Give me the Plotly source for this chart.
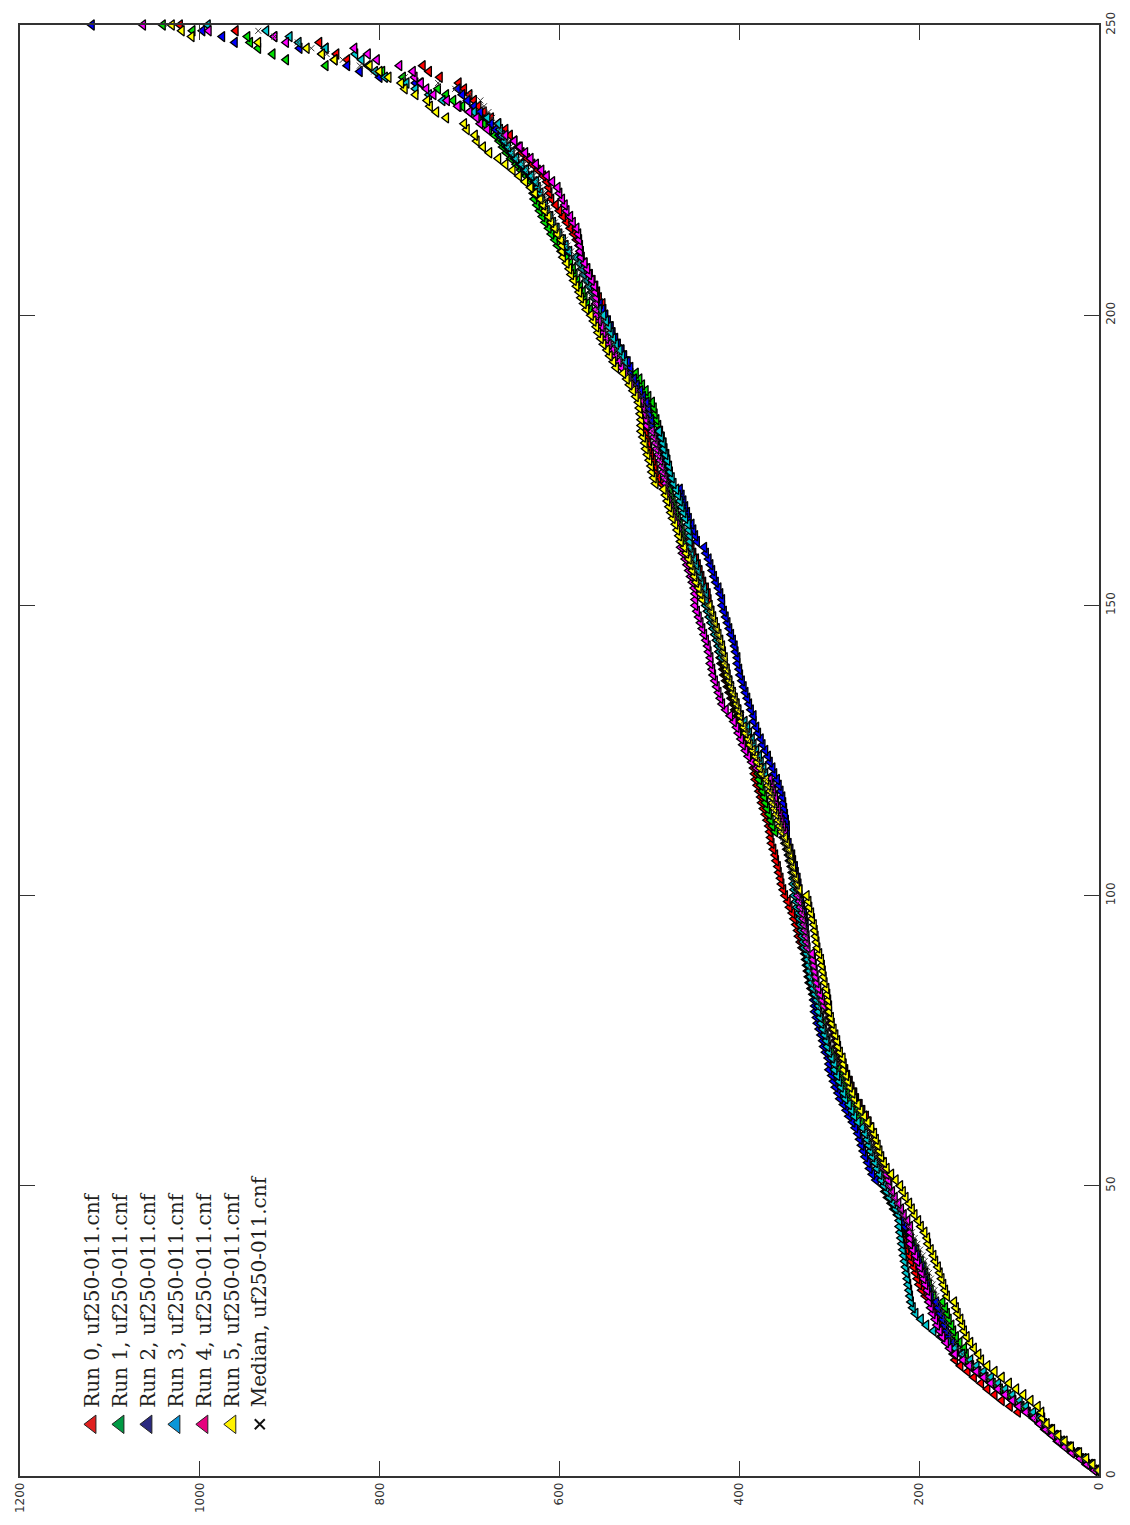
import plotly.graph_objects as go

# rank (number of instances) 1..250
ranks = list(range(1, 251))

run0 = [
5, 14, 20, 30, 37, 46, 52, 60, 66, 73,
90, 99, 108, 116, 124, 131, 139, 146, 154, 160,
162, 165, 168, 172, 175, 178, 180, 183, 185, 188,
193, 197, 200, 202, 204, 206, 209, 211, 214, 216,
217, 218, 218, 219, 222, 226, 229, 232, 236, 238,
239, 239, 240, 242, 244, 246, 248, 250, 252, 254,
256, 259, 263, 266, 270, 272, 275, 277, 280, 282,
288, 294, 299, 301, 302, 304, 306, 308, 309, 311,
314, 316, 318, 320, 322, 323, 324, 325, 326, 327,
330, 332, 334, 335, 337, 339, 341, 344, 346, 349,
351, 353, 354, 356, 357, 359, 360, 362, 364, 365,
366, 367, 369, 371, 373, 375, 376, 378, 380, 382,
383, 384, 385, 386, 388, 390, 392, 395, 397, 400,
402, 405, 407, 409, 411, 413, 415, 417, 418, 420,
421, 422, 422, 423, 424, 425, 427, 429, 431, 433,
434, 435, 437, 440, 442, 444, 446, 448, 451, 453,
458, 463, 466, 469, 472, 474, 476, 478, 480, 482,
487, 490, 493, 494, 496, 498, 500, 501, 503, 504,
505, 506, 507, 508, 509, 511, 514, 518, 521, 524,
525, 526, 528, 531, 535, 538, 541, 543, 546, 549,
551, 552, 556, 558, 560, 563, 566, 569, 572, 575,
576, 578, 581, 584, 588, 592, 596, 600, 604, 609,
611, 612, 614, 618, 624, 630, 636, 642, 646, 650,
655, 660, 668, 676, 684, 690, 695, 700, 706, 712,
733, 745, 752, 836, 848, 860, 867, 917, 960, 1022]

run1 = [
3, 10, 20, 26, 36, 44, 49, 58, 62, 71,
79, 86, 95, 101, 110, 118, 126, 134, 142, 148,
148, 150, 155, 159, 162, 164, 167, 169, 171, 174,
184, 187, 189, 191, 193, 195, 198, 201, 203, 206,
210, 214, 218, 221, 224, 228, 231, 235, 238, 240,
242, 244, 247, 249, 252, 254, 256, 258, 260, 262,
264, 267, 270, 274, 277, 280, 283, 285, 287, 290,
293, 295, 298, 301, 302, 304, 306, 307, 309, 311,
312, 314, 316, 318, 320, 321, 322, 323, 324, 325,
325, 326, 327, 328, 329, 330, 331, 332, 333, 335,
335, 336, 337, 339, 340, 342, 344, 346, 348, 350,
360, 363, 365, 367, 369, 371, 372, 374, 376, 378,
379, 380, 382, 384, 387, 390, 392, 395, 397, 400,
401, 403, 405, 407, 409, 411, 413, 415, 416, 418,
420, 422, 423, 425, 427, 429, 431, 433, 435, 437,
441, 443, 445, 448, 450, 452, 454, 456, 459, 461,
462, 463, 464, 466, 468, 470, 472, 474, 476, 477,
477, 478, 478, 479, 480, 481, 483, 484, 486, 488,
490, 492, 494, 495, 497, 501, 504, 508, 511, 515,
523, 526, 530, 533, 537, 540, 543, 545, 548, 551,
566, 569, 572, 574, 577, 580, 583, 585, 588, 592,
598, 602, 605, 609, 612, 616, 619, 622, 625, 628,
629, 630, 632, 637, 643, 648, 654, 659, 663, 667,
672, 678, 684, 690, 700, 708, 718, 726, 735, 755,
774, 797, 860, 904, 919, 935, 944, 947, 1008, 1041]

run2 = [
2, 9, 17, 25, 34, 41, 48, 55, 61, 68,
80, 89, 96, 104, 112, 120, 128, 136, 144, 151,
154, 159, 163, 167, 170, 172, 174, 177, 179, 181,
187, 189, 191, 193, 195, 197, 200, 202, 205, 208,
209, 212, 216, 219, 223, 226, 229, 233, 236, 239,
248, 252, 255, 257, 260, 262, 264, 266, 268, 271,
274, 278, 281, 284, 288, 290, 293, 295, 297, 300,
300, 301, 304, 306, 307, 309, 311, 313, 314, 316,
316, 317, 317, 318, 320, 321, 322, 323, 324, 325,
325, 325, 325, 326, 326, 327, 328, 330, 331, 333,
333, 334, 335, 337, 338, 340, 341, 343, 345, 347,
347, 347, 348, 349, 350, 351, 352, 354, 356, 358,
361, 363, 366, 368, 371, 374, 376, 379, 381, 384,
384, 387, 389, 391, 393, 395, 397, 399, 400, 402,
402, 404, 405, 407, 409, 411, 413, 415, 417, 419,
419, 421, 423, 426, 428, 430, 432, 434, 437, 439,
447, 449, 451, 453, 456, 458, 460, 462, 464, 466,
475, 477, 479, 480, 482, 484, 486, 487, 489, 491,
497, 498, 500, 501, 503, 507, 510, 514, 517, 521,
521, 524, 528, 531, 535, 538, 541, 543, 546, 549,
552, 555, 558, 560, 563, 566, 569, 571, 574, 578,
591, 595, 598, 602, 605, 609, 612, 616, 618, 621,
623, 626, 628, 633, 639, 644, 650, 655, 659, 663,
667, 671, 676, 682, 688, 695, 702, 708, 713, 760,
800, 822, 836, 850, 864, 889, 961, 975, 997, 1120]

run3 = [
2, 9, 17, 24, 33, 41, 48, 54, 61, 67,
73, 81, 88, 96, 104, 112, 120, 128, 136, 143,
152, 160, 168, 176, 184, 192, 198, 204, 207, 209,
210, 211, 212, 213, 214, 215, 216, 217, 218, 219,
220, 221, 222, 222, 223, 226, 229, 233, 236, 239,
242, 244, 247, 249, 252, 254, 256, 258, 260, 263,
268, 272, 275, 278, 282, 284, 287, 289, 291, 294,
294, 297, 300, 302, 303, 305, 307, 309, 310, 312,
312, 314, 316, 318, 320, 321, 322, 323, 324, 325,
328, 329, 330, 331, 332, 333, 334, 336, 337, 339,
339, 340, 340, 341, 342, 344, 345, 347, 349, 351,
351, 353, 355, 357, 359, 361, 362, 364, 366, 368,
371, 373, 376, 378, 381, 384, 386, 389, 391, 394,
398, 401, 403, 405, 407, 409, 411, 413, 414, 416,
420, 422, 423, 425, 427, 429, 431, 433, 435, 437,
437, 437, 439, 442, 444, 446, 448, 450, 453, 455,
455, 455, 456, 457, 460, 462, 464, 466, 468, 470,
473, 475, 477, 478, 480, 482, 484, 485, 487, 489,
503, 504, 506, 507, 509, 513, 516, 520, 523, 527,
527, 527, 530, 533, 537, 540, 543, 545, 548, 551,
556, 559, 562, 564, 567, 570, 573, 575, 578, 582,
589, 593, 596, 600, 603, 607, 610, 614, 616, 619,
621, 624, 626, 631, 637, 642, 648, 653, 657, 661,
664, 666, 668, 680, 695, 712, 730, 745, 760, 770,
794, 805, 813, 820, 827, 860, 890, 900, 926, 991]

run4 = [
5, 13, 21, 30, 38, 45, 52, 59, 66, 72,
81, 89, 96, 104, 112, 120, 128, 136, 144, 151,
160, 166, 170, 174, 177, 180, 182, 185, 187, 189,
189, 191, 193, 195, 197, 199, 202, 204, 207, 210,
210, 210, 210, 213, 217, 220, 223, 227, 230, 233,
234, 236, 239, 241, 244, 246, 248, 250, 252, 255,
257, 261, 264, 267, 271, 273, 276, 278, 280, 283,
284, 287, 290, 292, 293, 295, 297, 299, 300, 302,
306, 308, 310, 312, 314, 315, 316, 317, 318, 319,
324, 325, 326, 327, 328, 329, 330, 332, 333, 335,
335, 336, 337, 339, 340, 342, 343, 345, 347, 349,
349, 351, 353, 355, 357, 359, 360, 362, 364, 366,
376, 381, 386, 390, 393, 396, 398, 401, 403, 406,
410, 415, 419, 421, 423, 425, 427, 429, 430, 432,
432, 434, 435, 437, 439, 441, 443, 445, 447, 449,
449, 449, 450, 452, 454, 456, 458, 460, 463, 465,
465, 466, 467, 469, 472, 474, 476, 478, 480, 482,
482, 483, 485, 486, 488, 490, 492, 493, 495, 497,
503, 504, 506, 507, 509, 513, 516, 520, 523, 527,
531, 534, 538, 541, 545, 548, 551, 553, 556, 559,
559, 559, 559, 560, 561, 564, 567, 569, 572, 576,
577, 577, 578, 579, 581, 585, 588, 592, 594, 597,
600, 602, 608, 614, 620, 626, 632, 638, 644, 650,
660, 680, 688, 692, 700, 713, 725, 740, 748, 754,
761, 763, 778, 803, 813, 828, 904, 917, 990, 1063]

run5 = [
1, 7, 14, 22, 31, 38, 45, 52, 58, 63,
64, 68, 76, 84, 92, 100, 108, 116, 124, 131,
134, 139, 143, 147, 150, 152, 154, 157, 159, 161,
169, 171, 173, 175, 177, 179, 182, 184, 187, 190,
191, 194, 198, 201, 205, 208, 211, 215, 218, 221,
226, 231, 236, 239, 242, 244, 246, 248, 250, 253,
257, 261, 265, 268, 272, 274, 277, 279, 281, 284,
284, 285, 288, 290, 291, 293, 295, 297, 298, 300,
300, 301, 302, 303, 305, 306, 307, 308, 309, 311,
313, 314, 315, 316, 317, 319, 320, 322, 323, 325,
333, 336, 337, 339, 340, 342, 343, 345, 347, 349,
353, 355, 357, 359, 361, 363, 364, 366, 368, 370,
375, 377, 380, 382, 385, 388, 390, 393, 395, 398,
399, 401, 403, 405, 407, 409, 411, 413, 414, 416,
416, 418, 419, 421, 423, 425, 427, 429, 431, 433,
441, 443, 445, 448, 450, 452, 454, 456, 459, 461,
465, 467, 469, 471, 474, 476, 478, 480, 482, 484,
493, 495, 497, 498, 500, 502, 504, 505, 507, 509,
509, 509, 510, 511, 512, 515, 518, 522, 525, 529,
537, 540, 544, 547, 551, 554, 557, 559, 562, 565,
570, 573, 576, 578, 581, 584, 587, 589, 592, 596,
597, 597, 598, 602, 605, 609, 612, 616, 618, 621,
627, 632, 638, 645, 652, 660, 668, 678, 685, 692,
694, 703, 706, 726, 737, 744, 747, 760, 772, 776,
790, 800, 811, 850, 864, 881, 935, 1009, 1020, 1031]

median = [
4, 11, 19, 27, 36, 43, 50, 57, 63, 70,
77, 85, 92, 100, 108, 116, 124, 132, 140, 147,
152, 157, 161, 165, 168, 170, 172, 175, 177, 179,
181, 183, 185, 187, 189, 191, 194, 196, 199, 202,
205, 208, 212, 215, 219, 222, 225, 229, 232, 235,
238, 240, 243, 245, 248, 250, 252, 254, 256, 259,
262, 266, 269, 272, 276, 278, 281, 283, 285, 288,
290, 293, 296, 298, 299, 301, 303, 305, 306, 308,
310, 312, 314, 316, 318, 319, 320, 321, 322, 323,
324, 325, 326, 327, 328, 329, 330, 332, 333, 335,
336, 338, 339, 341, 342, 344, 345, 347, 349, 351,
353, 355, 357, 359, 361, 363, 364, 366, 368, 370,
373, 375, 378, 380, 383, 386, 388, 391, 393, 396,
398, 401, 403, 405, 407, 409, 411, 413, 414, 416,
418, 420, 421, 423, 425, 427, 429, 431, 433, 435,
437, 439, 441, 444, 446, 448, 450, 452, 455, 457,
459, 461, 463, 465, 468, 470, 472, 474, 476, 478,
481, 483, 485, 486, 488, 490, 492, 493, 495, 497,
499, 500, 502, 503, 505, 509, 512, 516, 519, 523,
527, 530, 534, 537, 541, 544, 547, 549, 552, 555,
558, 561, 564, 566, 569, 572, 575, 577, 580, 584,
587, 591, 594, 598, 601, 605, 608, 612, 614, 617,
619, 622, 624, 629, 635, 640, 646, 651, 655, 659,
663, 667, 671, 675, 679, 684, 688, 700, 716, 735,
772, 806, 822, 841, 859, 876, 891, 917, 935, 1036]

series_names = ["Run 0, uf250-011.cnf", "Run 1, uf250-011.cnf", "Run 2, uf250-011.cnf",
                "Run 3, uf250-011.cnf", "Run 4, uf250-011.cnf", "Run 5, uf250-011.cnf"]
median_name = "Median, uf250-011.cnf"
data_colors = ["#ff0000", "#00e000", "#0000ff", "#00c8d0", "#ff00ff", "#ffff00"]
legend_colors = ["#e0201f", "#009a44", "#2b2a80", "#0a96d8", "#e5007e", "#fff200"]

value_ticks = [0, 200, 400, 600, 800, 1000, 1200]
rank_ticks = [0, 50, 100, 150, 200, 250]

fig = go.Figure()
runs = [run0, run1, run2, run3, run4, run5]
for name, vals, col in zip(series_names, runs, data_colors):
    fig.add_trace(go.Scatter(
        x=vals, y=ranks, mode="markers", name=name, cliponaxis=False,
        marker=dict(symbol="triangle-left", size=9, color=col,
                    line=dict(color="black", width=1.3)),
        showlegend=False))
fig.add_trace(go.Scatter(
    x=median, y=ranks, mode="markers", name=median_name, cliponaxis=False,
    marker=dict(symbol="x-thin", size=6, color="#333",
                line=dict(color="#333", width=1)),
    showlegend=False))

# legend (rotated like the chart)
W, H, L, T = 1080.0, 1460.0, 20.0, 20.0
def px(xp):
    return (xp - L) / W
def py(yp):
    return (T + H - yp) / H

leg_x = [92, 120, 148, 176, 204, 232, 260]
fig.add_trace(go.Scatter(
    x=[px(v) for v in leg_x[:6]], y=[py(1428)] * 6, xaxis="x2", yaxis="y2",
    mode="markers", cliponaxis=False, showlegend=False, hoverinfo="skip",
    marker=dict(symbol="triangle-left", size=16, color=legend_colors,
                line=dict(color="#222", width=1))))
fig.add_trace(go.Scatter(
    x=[px(leg_x[6])], y=[py(1428)], xaxis="x2", yaxis="y2",
    mode="markers", cliponaxis=False, showlegend=False, hoverinfo="skip",
    marker=dict(symbol="x-thin", size=10, color="#111",
                line=dict(color="#111", width=2))))

annotations = []
for i, label in enumerate(series_names + [median_name]):
    annotations.append(dict(
        x=px(leg_x[i]), y=py(1413), xref="paper", yref="paper",
        text=label, textangle=-90, showarrow=False,
        xanchor="center", yanchor="bottom",
        font=dict(family="DejaVu Serif", size=20, color="#231f20")))

axis_common = dict(
    ticks="inside", ticklen=15, tickwidth=1, tickcolor="#333",
    showline=True, linecolor="#333", linewidth=1.5, mirror="ticks",
    showgrid=False, zeroline=False, tickangle=-90,
    tickfont=dict(family="DejaVu Sans", size=12, color="#333"))

fig.update_layout(
    width=1130, height=1525,
    margin=dict(l=20, r=30, t=20, b=45),
    plot_bgcolor="white", paper_bgcolor="white",
    xaxis=dict(range=[1200, 0], tickvals=value_ticks, **axis_common),
    yaxis=dict(range=[0, 250], side="right", tickvals=rank_ticks, **axis_common),
    xaxis2=dict(overlaying="x", range=[0, 1], visible=False),
    yaxis2=dict(overlaying="y", range=[0, 1], visible=False),
    annotations=annotations,
)

fig.write_html("out.html")
